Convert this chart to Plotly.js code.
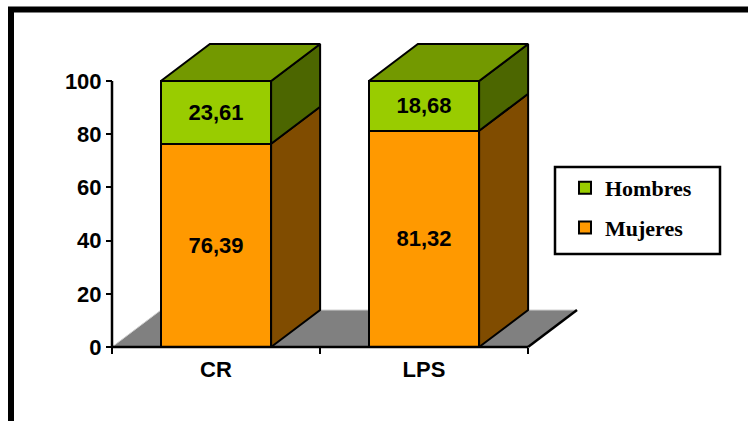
<!DOCTYPE html>
<html>
<head>
<meta charset="utf-8">
<script src="https://cdn.plot.ly/plotly-3.0.1.min.js"></script>
<style>
  html, body { margin: 0; padding: 0; background: #ffffff; }
  #chart { width: 748px; height: 421px; }
</style>
</head>
<body>
<div id="chart"></div>
<script>
// Data
const categories = ['CR', 'LPS'];
const mujeres = [76.39, 81.32];
const hombres = [23.61, 18.68];
const yTicks = [0, 20, 40, 60, 80, 100];

// Colours (front / side / top)
const mujeresFront = '#FF9900', mujeresSide = '#804C00';
const hombresFront = '#99CC00', hombresSide = '#4C6600', hombresTop = '#739900';

// Page geometry
const W = 748, H = 421;
const M = { l: 100, r: 148, t: 30, b: 61 };
const plotW = W - M.l - M.r, plotH = H - M.t - M.b;
const pxPerX = 208, pxPerY = 2.66;           // scale of the axes
const origin = { x: 112, y: 347 };            // pixel of (x=-0.5, y=0)
const xRange = [-0.5 - (origin.x - M.l) / pxPerX, 0];
xRange[1] = xRange[0] + plotW / pxPerX;
const yRange = [-(M.t + plotH - origin.y) / pxPerY, 0];
yRange[1] = yRange[0] + plotH / pxPerY;

// 3-D depth offset expressed in axis units
const DX = 49 / pxPerX, DY = 37 / pxPerY;
const barWidth = 0.53, half = barWidth / 2;

const px2paperX = p => (p - M.l) / plotW;
const px2paperY = p => (M.t + plotH - p) / plotH;

const xs = categories.map((_, i) => i);
const labelFont = { family: 'Liberation Sans, Arial', size: 22, weight: 'bold', color: '#000' };

const traces = [
  {
    type: 'bar', name: 'Mujeres', legendgroup: 'mujeres', legendrank: 2,
    x: xs, y: mujeres, width: barWidth,
    marker: { color: mujeresFront, line: { color: '#000', width: 2 } },
    texttemplate: '%{y:.2f}', textposition: 'inside', insidetextanchor: 'middle',
    constraintext: 'none', textfont: labelFont, hoverinfo: 'skip'
  },
  {
    type: 'bar', name: 'Hombres', legendgroup: 'hombres', legendrank: 1,
    x: xs, y: hombres, width: barWidth,
    marker: { color: hombresFront, line: { color: '#000', width: 2 } },
    texttemplate: '%{y:.2f}', textposition: 'inside', insidetextanchor: 'middle',
    constraintext: 'none', textfont: labelFont, hoverinfo: 'skip'
  }
];

// Side and top faces of each stacked column
function face(xp, yp, color) {
  traces.push({
    type: 'scatter', mode: 'lines', x: xp, y: yp, fill: 'toself',
    fillcolor: color, line: { color: '#000', width: 2 },
    showlegend: false, hoverinfo: 'skip'
  });
}
xs.forEach((xc, i) => {
  const x0 = xc - half, x1 = xc + half;
  const segs = [[0, mujeres[i], mujeresSide], [mujeres[i], mujeres[i] + hombres[i], hombresSide]];
  segs.forEach(([lo, hi, c]) => {
    face([x1, x1 + DX, x1 + DX, x1, x1], [lo, lo + DY, hi + DY, hi, lo], c);
  });
  const top = mujeres[i] + hombres[i];
  face([x0, x1, x1 + DX, x0 + DX, x0], [top, top, top + DY, top + DY, top], hombresTop);
});

const xLo = -0.5, xHi = categories.length - 0.5;
const shapes = [
  // floor
  { type: 'path', layer: 'below', xref: 'x', yref: 'y',
    path: `M ${xLo},0 L ${xHi},0 L ${xHi + DX},${DY} L ${xLo + DX},${DY} Z`,
    fillcolor: '#808080', line: { width: 0 } },
  { type: 'path', layer: 'below', xref: 'x', yref: 'y',
    path: `M ${xLo},0 L ${xLo + DX},${DY} L ${xHi + DX},${DY}`,
    line: { color: '#cfcfcf', width: 1 } },
  { type: 'line', layer: 'below', xref: 'x', yref: 'y',
    x0: xHi, y0: 0, x1: xHi + DX, y1: DY, line: { color: '#000', width: 2.5 } },
  // axis lines
  { type: 'line', xref: 'x', yref: 'y', x0: xLo, y0: 0, x1: xLo, y1: 100,
    line: { color: '#000', width: 2.5 } },
  { type: 'line', xref: 'x', yref: 'y', x0: xLo, y0: 0, x1: xHi, y1: 0,
    line: { color: '#000', width: 2.5 } },
  // legend frame
  { type: 'rect', xref: 'paper', yref: 'paper', layer: 'below',
    x0: px2paperX(555), y0: px2paperY(167), x1: px2paperX(720), y1: px2paperY(254),
    line: { color: '#000', width: 2.5 }, fillcolor: '#ffffff' },
  // outer frame
  { type: 'rect', xref: 'paper', yref: 'paper',
    x0: px2paperX(11), y0: px2paperY(9.5), x1: px2paperX(770), y1: px2paperY(440),
    line: { color: '#000', width: 6 }, fillcolor: 'rgba(0,0,0,0)' }
];

const layout = {
  width: W, height: H,
  margin: M,
  paper_bgcolor: '#ffffff', plot_bgcolor: 'rgba(0,0,0,0)',
  separators: ',.',
  barmode: 'stack',
  showlegend: true,
  xaxis: {
    range: xRange, anchor: 'free', position: px2paperY(origin.y),
    showline: false, showgrid: false, zeroline: false,
    tickmode: 'array', tickvals: xs, ticktext: categories, ticks: '',
    ticklabelstandoff: 7,
    tickfont: labelFont,
    minor: { tickmode: 'array', tickvals: [xLo, 0.5, xHi], ticks: 'outside',
             ticklen: 6, tickwidth: 2, tickcolor: '#000', showgrid: false }
  },
  yaxis: {
    range: yRange, anchor: 'free', position: px2paperX(origin.x),
    showline: false, showgrid: false, zeroline: false,
    tickmode: 'array', tickvals: yTicks, ticks: 'outside', ticklen: 6,
    tickwidth: 2, tickcolor: '#000',
    tickfont: labelFont
  },
  legend: {
    x: px2paperX(565), y: px2paperY(167), xanchor: 'left', yanchor: 'top',
    bgcolor: 'rgba(0,0,0,0)', borderwidth: 0,
    traceorder: 'grouped', tracegroupgap: 8, itemwidth: 30,
    font: { family: 'Liberation Serif, Times New Roman', size: 22, weight: 'bold', color: '#000' }
  },
  shapes: shapes
};

Plotly.newPlot('chart', traces, layout, { staticPlot: true, displayModeBar: false });
</script>
</body>
</html>
